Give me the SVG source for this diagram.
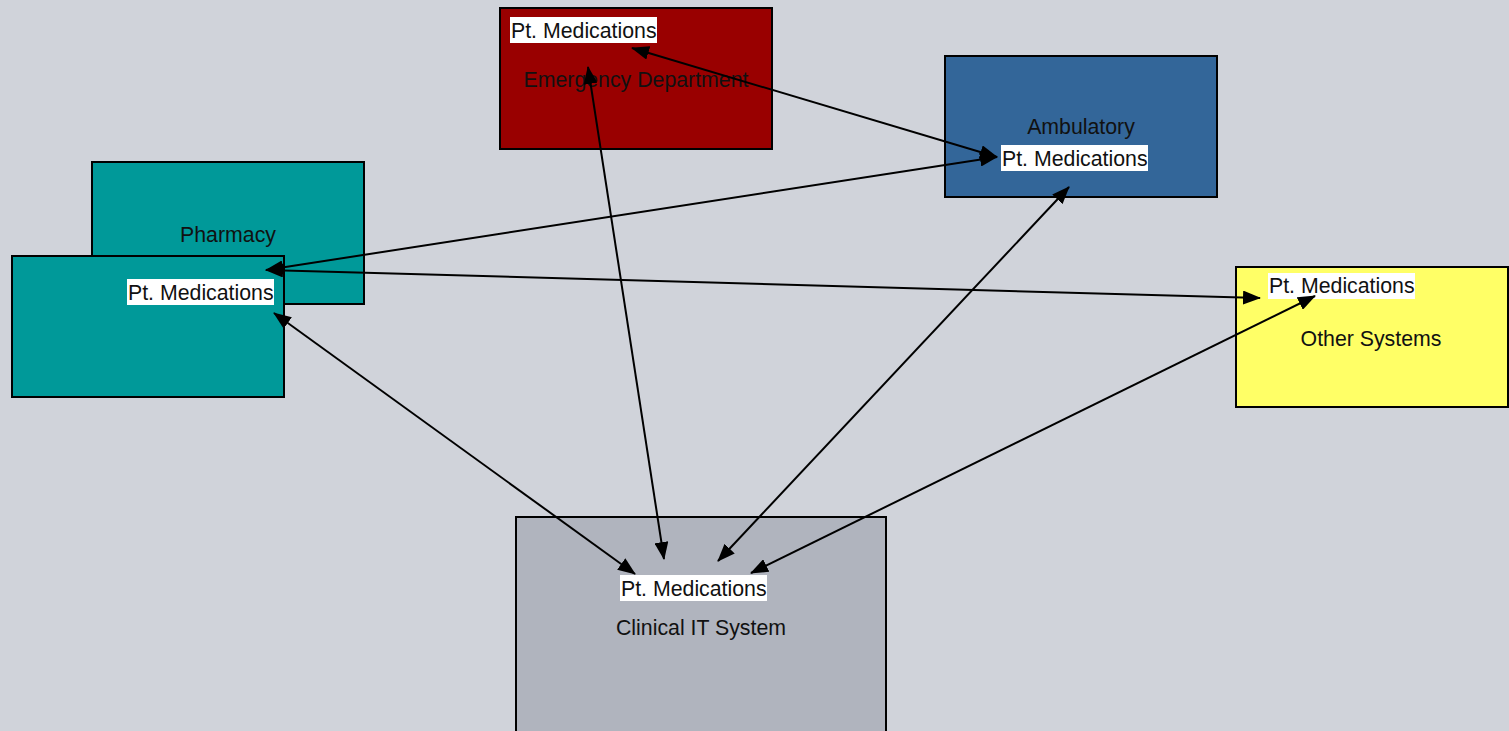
<svg xmlns="http://www.w3.org/2000/svg" width="1509" height="731" viewBox="0 0 1509 731">
<style>
.box{stroke:#000;stroke-width:2}
.t{font-family:"Liberation Sans",Arial,sans-serif;font-size:21.3px;fill:#111}
.lbl{fill:#fff}
.c{stroke:#000;stroke-width:2;fill:none;marker-start:url(#ah);marker-end:url(#ah)}
</style>
<defs>
<marker id="ah" markerUnits="userSpaceOnUse" markerWidth="18" markerHeight="14" refX="17" refY="7" orient="auto-start-reverse" viewBox="0 0 18 14">
<path d="M0,0 L18,7 L0,14 z" fill="#000"/>
</marker>
</defs>
<rect width="1509" height="731" fill="#D0D3DA"/>
<g id="ed">
<rect class="box" x="500" y="8" width="272" height="141" fill="#990000"/>
<text class="t" x="636" y="87" text-anchor="middle">Emergency Department</text>
<rect class="lbl" x="510" y="17" width="147" height="26"/>
<text class="t" x="511" y="38">Pt. Medications</text>
</g>
<g id="ambulatory">
<rect class="box" x="945" y="56" width="272" height="141" fill="#336699"/>
<text class="t" x="1081" y="134" text-anchor="middle">Ambulatory</text>
<rect class="lbl" x="1001" y="145" width="147" height="26"/>
<text class="t" x="1002" y="166">Pt. Medications</text>
</g>
<g id="pharmacy">
<rect class="box" x="92" y="162" width="272" height="142" fill="#009999"/>
<text class="t" x="228" y="242" text-anchor="middle">Pharmacy</text>
<rect class="box" x="12" y="256" width="272" height="141" fill="#009999"/>
<rect class="lbl" x="127" y="279" width="147" height="26"/>
<text class="t" x="128" y="300">Pt. Medications</text>
</g>
<g id="other">
<rect class="box" x="1236" y="267" width="272" height="140" fill="#FFFF66"/>
<text class="t" x="1371" y="346" text-anchor="middle">Other Systems</text>
<rect class="lbl" x="1268" y="273" width="147" height="26"/>
<text class="t" x="1269" y="293">Pt. Medications</text>
</g>
<g id="clinical">
<rect class="box" x="516" y="517" width="370" height="230" fill="#B0B4BE"/>
<text class="t" x="701" y="635" text-anchor="middle">Clinical IT System</text>
<rect class="lbl" x="620" y="575" width="147" height="26"/>
<text class="t" x="621" y="596">Pt. Medications</text>
</g>
<g id="connectors">
<line class="c" x1="632" y1="48" x2="997" y2="157"/>
<line class="c" x1="588" y1="67" x2="664" y2="559"/>
<line class="c" x1="266" y1="270" x2="997" y2="157"/>
<line class="c" x1="266" y1="270" x2="1260" y2="298"/>
<line class="c" x1="274" y1="313" x2="635" y2="574"/>
<line class="c" x1="1069" y1="187" x2="718" y2="561"/>
<line class="c" x1="1315" y1="296" x2="751" y2="573"/>
</g>
</svg>
